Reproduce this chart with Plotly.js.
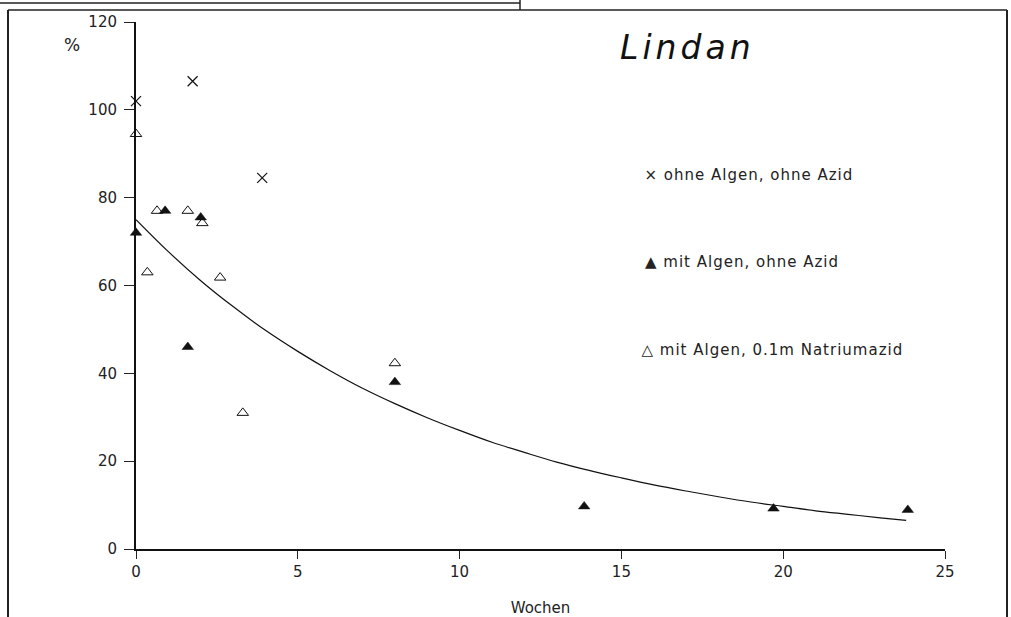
<!DOCTYPE html>
<html>
<head>
<meta charset="utf-8">
<script src="https://cdn.plot.ly/plotly-3.0.1.min.js"></script>
<style>
  html, body { margin: 0; padding: 0; background: #fff; }
  #chart { width: 1011px; height: 617px; }
</style>
</head>
<body>
<div id="chart"></div>
<script>
// Series: ohne Algen, ohne Azid (x markers)
const weeksNoAlgae = [0, 1.75, 3.9];
const valuesNoAlgae = [102, 106.5, 84.5];

// Series: mit Algen, ohne Azid (filled triangles)
const weeksAlgae = [0, 0.9, 2.0, 1.6, 8.0, 13.85, 19.7, 23.85];
const valuesAlgae = [72, 77, 75.5, 46, 38, 9.7, 9.2, 8.9];

// Series: mit Algen, 0.1m Natriumazid (open triangles)
const weeksAzide = [0, 0.35, 0.65, 1.6, 2.05, 2.6, 3.3, 8.0];
const valuesAzide = [94.5, 63, 77, 77, 74.2, 61.8, 31, 42.3];

// Fitted curve
const curveWeeks = [0, 1, 2, 3, 4, 5, 6, 7, 8, 9, 10, 11, 12, 13, 14, 15, 16, 17, 18, 19, 20, 21, 22, 23, 23.8];
const curveValues = [75, 67.7, 61.1, 55.2, 49.8, 45.0, 40.6, 36.6, 33.1, 29.9, 27.0, 24.3, 22.0, 19.8, 17.9, 16.2, 14.6, 13.2, 11.9, 10.7, 9.7, 8.7, 7.9, 7.1, 6.5];

const xTicks = [0, 5, 10, 15, 20, 25];
const yTicks = [0, 20, 40, 60, 80, 100, 120];

const legendTexts = ["× ohne Algen, ohne Azid", "▲ mit Algen, ohne Azid", "△ mit Algen, 0.1m Natriumazid"];
const legendY = [85.2, 65.4, 45.3];

const FONT = "DejaVu Sans, Liberation Sans, sans-serif";

const traces = [
  {
    x: curveWeeks, y: curveValues, mode: 'lines', type: 'scatter', cliponaxis: false,
    line: { color: '#111', width: 1.2, shape: 'spline', smoothing: 1 }, hoverinfo: 'skip'
  },
  {
    x: weeksNoAlgae, y: valuesNoAlgae, mode: 'markers', type: 'scatter', cliponaxis: false,
    marker: { symbol: 'x-thin-open', size: 10, color: '#111', line: { color: '#111', width: 1.2 } }
  },
  {
    x: weeksAlgae, y: valuesAlgae, mode: 'markers', type: 'scatter', cliponaxis: false,
    marker: { symbol: 'triangle-up', size: 10, color: '#111', line: { color: '#111', width: 0.5 } }
  },
  {
    x: weeksAzide, y: valuesAzide, mode: 'markers', type: 'scatter', cliponaxis: false,
    marker: { symbol: 'triangle-up-open', size: 10, color: '#111', line: { color: '#111', width: 1 } }
  }
];

const annotations = legendTexts.map((t, i) => ({
  x: 16.0, y: legendY[i], xref: 'x', yref: 'y', text: t, showarrow: false,
  xanchor: 'left', yanchor: 'middle', font: { family: FONT, size: 15, color: '#222' }
}));
// Title "Lindan"
annotations.push({
  x: (687 - 136) / 809, y: (549 - 48) / 527, xref: 'paper', yref: 'paper',
  text: 'Lindan', showarrow: false, xanchor: 'center', yanchor: 'middle',
  font: { family: FONT, size: 33, color: '#111', style: 'italic' }
});
// "%" label
annotations.push({
  x: (72 - 136) / 809, y: (549 - 45) / 527, xref: 'paper', yref: 'paper',
  text: '%', showarrow: false, xanchor: 'center', yanchor: 'middle',
  font: { family: FONT, size: 17, color: '#222' }
});

const px = v => (v - 136) / 809;
const py = v => (549 - v) / 527;

const shapes = [
  // outer frame
  { type: 'line', xref: 'paper', yref: 'paper', x0: px(8), x1: px(8), y0: py(10), y1: py(625), line: { color: '#222', width: 2 } },
  { type: 'line', xref: 'paper', yref: 'paper', x0: px(1007), x1: px(1007), y0: py(10), y1: py(625), line: { color: '#222', width: 2 } },
  { type: 'line', xref: 'paper', yref: 'paper', x0: px(8), x1: px(1007), y0: py(10), y1: py(10), line: { color: '#222', width: 1.5 } },
  // upper partial box
  { type: 'line', xref: 'paper', yref: 'paper', x0: px(0), x1: px(520), y0: py(3), y1: py(3), line: { color: '#222', width: 1.5 } },
  { type: 'line', xref: 'paper', yref: 'paper', x0: px(520), x1: px(520), y0: py(0), y1: py(10), line: { color: '#222', width: 1.5 } }
];

const layout = {
  width: 1011, height: 617,
  margin: { l: 136, r: 66, t: 22, b: 68 },
  paper_bgcolor: '#fff', plot_bgcolor: '#fff',
  showlegend: false,
  font: { family: FONT, size: 14, color: '#222' },
  xaxis: {
    range: [0, 25], tickvals: xTicks, ticktext: xTicks.map(String),
    showgrid: false, zeroline: false, showline: true, linecolor: '#111', linewidth: 2,
    ticks: 'outside', ticklen: 8, tickwidth: 1, tickcolor: '#222',
    tickfont: { family: FONT, size: 15, color: '#222' },
    title: { text: 'Wochen', font: { family: FONT, size: 15, color: '#222' }, standoff: 22 }
  },
  yaxis: {
    range: [0, 120], tickvals: yTicks, ticktext: yTicks.map(String),
    showgrid: false, zeroline: false, showline: true, linecolor: '#111', linewidth: 2,
    ticks: 'outside', ticklen: 10, tickwidth: 1, tickcolor: '#222', ticklabelstandoff: 4,
    tickfont: { family: FONT, size: 15, color: '#222' }
  },
  annotations: annotations,
  shapes: shapes
};

Plotly.newPlot('chart', traces, layout, { displayModeBar: false, staticPlot: true }).then(() => {
  document.querySelectorAll('.annotation-text').forEach(el => {
    if (el.textContent === 'Lindan') el.style.letterSpacing = '4px';
    else if (el.textContent !== '%') el.style.letterSpacing = '1px';
  });
});
</script>
</body>
</html>
